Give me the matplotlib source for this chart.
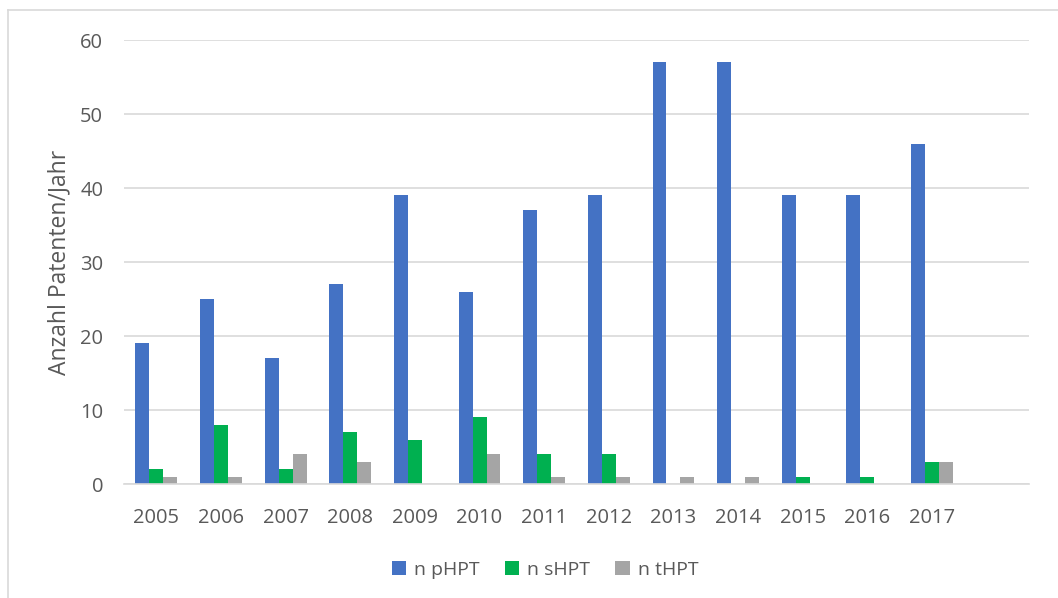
import matplotlib.pyplot as plt
import numpy as np
from matplotlib.lines import Line2D

years = ['2005', '2006', '2007', '2008', '2009', '2010', '2011',
         '2012', '2013', '2014', '2015', '2016', '2017']
n_phpt = [19, 25, 17, 27, 39, 26, 37, 39, 57, 57, 39, 39, 46]
n_shpt = [2, 8, 2, 7, 6, 9, 4, 4, 0, 0, 1, 1, 3]
n_thpt = [1, 1, 4, 3, 0, 4, 1, 1, 1, 1, 0, 0, 3]

plt.rcParams['font.family'] = ['Open Sans', 'DejaVu Sans']

fig = plt.figure(figsize=(10.58, 5.98), dpi=100)
ax = fig.add_axes([124/1058, 1 - 484/598, 905/1058, 444/598])

x = np.arange(len(years))
w = 0.216
ax.bar(x - w, n_phpt, w, color='#4472C4', label='n pHPT', zorder=3)
ax.bar(x, n_shpt, w, color='#00B050', label='n sHPT', zorder=3)
ax.bar(x + w, n_thpt, w, color='#A5A5A5', label='n tHPT', zorder=3)

ax.set_xlim(-0.5, len(years) + 0.5)   # eine leere Kategorie am Ende
ax.set_ylim(0, 60)
ax.set_yticks(range(0, 61, 10))
ax.set_xticks(x)
ax.set_xticklabels(years)
ax.tick_params(length=0, labelsize=14.5, colors='#595959')
ax.tick_params(axis='x', pad=17)
ax.tick_params(axis='y', pad=15)
ax.yaxis.grid(True, color='#d9d9d9', linewidth=1.2, zorder=0)
for s in ['top', 'right', 'left']:
    ax.spines[s].set_visible(False)
ax.spines['bottom'].set_color('#d9d9d9')
ax.spines['bottom'].set_linewidth(1.2)
ax.spines['bottom'].set_zorder(4)

ax.set_ylabel('Anzahl Patenten/Jahr', fontsize=16.5, color='#595959', labelpad=6)

ax.legend(loc='center', bbox_to_anchor=(545/1058, 1 - 570/598),
          bbox_transform=fig.transFigure, ncol=3, frameon=False,
          fontsize=14, labelcolor='#595959', handlelength=0.75,
          handleheight=0.75, handletextpad=0.4, columnspacing=1.3)

# Rahmen links und oben
fig.add_artist(Line2D([8/1058, 8/1058], [0, 1 - 10/598], color='#d9d9d9', lw=1.2))
fig.add_artist(Line2D([8/1058, 1], [1 - 10/598, 1 - 10/598], color='#d9d9d9', lw=1.2))

fig.savefig('out.png', dpi=100)
